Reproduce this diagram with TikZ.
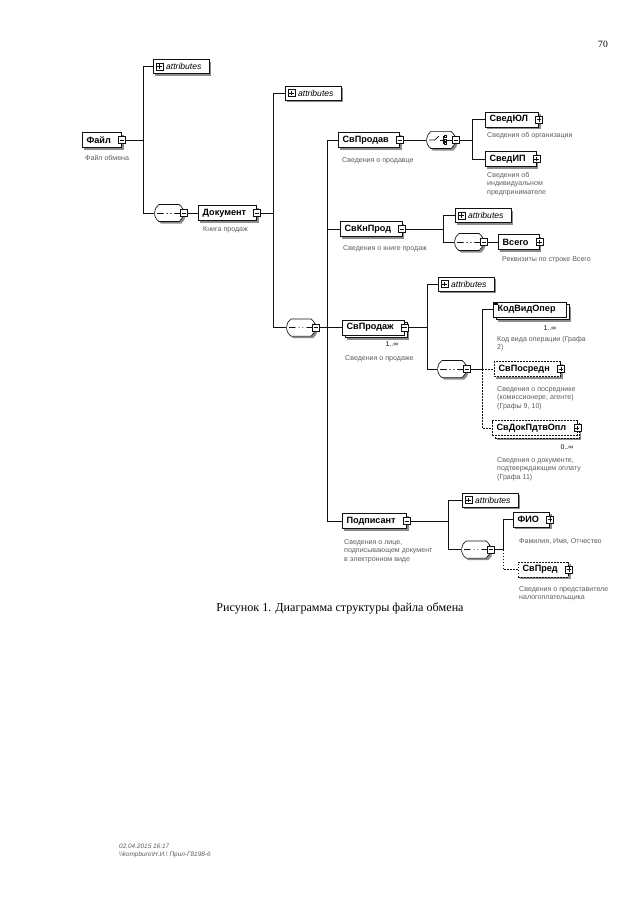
\documentclass[tikz,border=0pt]{standalone}
\usepackage{fontspec}
\setmainfont{Liberation Serif}
\setsansfont{Liberation Sans}
\usetikzlibrary{shapes.misc,shadows,calc}
\definecolor{xsInk}{HTML}{111111}
\definecolor{xsGrey}{HTML}{5C5C5C}
\definecolor{xsShade}{HTML}{8C8C8C}
\tikzset{
  shd/.style={drop shadow={shadow xshift=2pt, shadow yshift=-2pt, fill=xsShade, draw=none, opacity=1}},
  elmB/.style={draw=xsInk, fill=white, line width=0.6pt, anchor=west, minimum height=14pt, inner xsep=4pt, inner ysep=1pt, font=\sffamily\bfseries\fontsize{8.5}{10}\selectfont, execute at end node={\hspace{6pt}}},
  elm/.style={elmB, shd},
  elmO/.style={elm, dash pattern=on 1.6pt off 1.2pt},
  elmM/.style={elmB, drop shadow={shadow xshift=4.2pt, shadow yshift=-4.2pt, fill=xsShade, draw=none, opacity=1}, copy shadow={shadow xshift=2.5pt, shadow yshift=-2.5pt}},
  elmMO/.style={elmM, dash pattern=on 1.6pt off 1.2pt},
  atr/.style={draw=xsInk, fill=white, line width=0.6pt, anchor=west, minimum height=13pt, inner xsep=3pt, inner ysep=1pt, font=\sffamily\itshape\fontsize{8}{9}\selectfont, execute at begin node={\hspace{9pt}}, execute at end node={\hspace{4pt}}, shd},
  mns/.style={draw=xsInk, fill=white, line width=0.5pt, minimum size=6.5pt, inner sep=0pt,
    path picture={\draw[line width=0.5pt] ([xshift=1.2pt]path picture bounding box.west) -- ([xshift=-1.2pt]path picture bounding box.east);}},
  pls/.style={draw=xsInk, fill=white, line width=0.5pt, minimum size=6.5pt, inner sep=0pt,
    path picture={\draw[line width=0.5pt] ([xshift=1.2pt]path picture bounding box.west) -- ([xshift=-1.2pt]path picture bounding box.east);
      \draw[line width=0.5pt] ([yshift=1.2pt]path picture bounding box.south) -- ([yshift=-1.2pt]path picture bounding box.north);}},
  grp/.style={rounded rectangle, rounded rectangle arc length=110, draw=xsInk, fill=white, line width=0.6pt, minimum width=27pt, minimum height=16pt, inner sep=0pt, shd},
  sqn/.style={grp,
    path picture={\draw[line width=0.9pt] ([xshift=2.5pt]path picture bounding box.west) -- ([xshift=-2.5pt]path picture bounding box.east);
      \foreach \d in {-3.6pt,0pt,3.6pt} \fill ([xshift=\d]path picture bounding box.center) circle (1.6pt);}},
  chc/.style={grp,
    path picture={\draw[line width=0.7pt] ([xshift=-11pt]path picture bounding box.center) -- ([xshift=-6pt]path picture bounding box.center) -- ([xshift=-2pt,yshift=3.5pt]path picture bounding box.center);
      \draw[line width=0.7pt] ([xshift=-1pt]path picture bounding box.center) -- ([xshift=6pt]path picture bounding box.center);
      \draw[line width=0.6pt] ([xshift=2pt,yshift=-3.5pt]path picture bounding box.center) -- ([xshift=2pt,yshift=3.5pt]path picture bounding box.center);
      \foreach \d in {-3.2pt,0pt,3.2pt} \draw[line width=0.5pt, fill=white] ([shift={(2.8pt,\d-1pt)}]path picture bounding box.center) rectangle ++(2pt,2pt);
      \draw[line width=0.7pt] ([xshift=5pt]path picture bounding box.center) -- ([xshift=11pt]path picture bounding box.center);}},
  lbl/.style={anchor=north west, inner sep=0pt, align=left, text=xsGrey, font=\sffamily\fontsize{6.6}{7.9}\selectfont},
  occ/.style={inner sep=0pt, text=xsInk, font=\sffamily\fontsize{6.5}{7.8}\selectfont},
  ln/.style={draw=xsInk, line width=0.6pt},
  lnO/.style={ln, dash pattern=on 1.6pt off 1.2pt},
}
\begin{document}
\begin{tikzpicture}[x=0.0328cm, y=-0.0328cm]
\useasboundingbox (0,0) rectangle (640,905);
\node[font=\fontsize{9}{11}\selectfont] (pg) at (603,44) {70};

% Файл
\node[elm] (fil) at (82,140) {Файл};
\node[mns] (filM) at (fil.east) {};
\node[lbl] (filL) at (85,155) {Файл обмена};
\node[atr] (at1) at (153,66.5) {attributes};
\node[pls] (at1P) at ([xshift=6pt]at1.west) {};
\node[sqn] (sq1) at (169,213) {};
\node[mns] (sq1M) at (sq1.east) {};
\coordinate (j1) at (143,140);
\draw[ln] (filM) -- (j1) |- (at1);
\draw[ln] (j1) |- (sq1);

% Документ
\node[elm] (doc) at (198,213) {Документ};
\node[mns] (docM) at (doc.east) {};
\node[lbl] (docL) at (203,226) {Книга продаж};
\draw[ln] (sq1M) -- (doc);
\node[atr] (at2) at (285,93) {attributes};
\node[pls] (at2P) at ([xshift=6pt]at2.west) {};
\node[sqn] (sq2) at (301,327.5) {};
\node[mns] (sq2M) at (sq2.east) {};
\coordinate (j2) at (273,213);
\draw[ln] (docM) -- (j2) |- (at2);
\draw[ln] (j2) |- (sq2);

% children of Документ
\node[elm] (svp) at (338,140) {СвПродав};
\node[mns] (svpM) at (svp.east) {};
\node[lbl] (svpL) at (342,157) {Сведения о продавце};
\node[elm] (skp) at (340,229) {СвКнПрод};
\node[mns] (skpM) at (skp.east) {};
\node[lbl] (skpL) at (343,245) {Сведения о книге продаж};
\node[elmM] (spj) at (342,327.5) {СвПродаж};
\node[mns] (spjM) at (spj.east) {};
\node[occ] (spjO) at (392,344) {1..∞};
\node[lbl] (spjL) at (345,355) {Сведения о продаже};
\node[elm] (pod) at (342,521) {Подписант};
\node[mns] (podM) at (pod.east) {};
\node[lbl] (podL) at (344,539) {Сведения о лице,\\подписывающем документ\\в электронном виде};
\coordinate (j3) at (327,327.5);
\draw[ln] (sq2M) -- (j3);
\foreach \v in {svp,skp,spj,pod} \draw[ln] (j3) |- (\v);

% СвПродав
\node[chc] (ch1) at (441,140) {};
\node[mns] (ch1M) at (ch1.east) {};
\draw[ln] (svpM) -- (ch1);
\node[elm] (sul) at (485,119.5) {СведЮЛ};
\node[pls] (sulP) at (sul.east) {};
\node[lbl] (sulL) at (487,132) {Сведения об организации};
\node[elm] (sip) at (485,159) {СведИП};
\node[pls] (sipP) at (sip.east) {};
\node[lbl] (sipL) at (487,172) {Сведения об\\индивидуальном\\предпринимателе};
\coordinate (j4) at (472,140);
\draw[ln] (ch1M) -- (j4);
\foreach \v in {sul,sip} \draw[ln] (j4) |- (\v);

% СвКнПрод
\node[atr] (at3) at (455,215.5) {attributes};
\node[pls] (at3P) at ([xshift=6pt]at3.west) {};
\node[sqn] (sq3) at (469,242) {};
\node[mns] (sq3M) at (sq3.east) {};
\node[elm] (vsg) at (498,242) {Всего};
\node[pls] (vsgP) at (vsg.east) {};
\node[lbl] (vsgL) at (502,256) {Реквизиты по строке Всего};
\coordinate (j5) at (443,229);
\draw[ln] (skpM) -- (j5) |- (at3);
\draw[ln] (j5) |- (sq3);
\draw[ln] (sq3M) -- (vsg);

% СвПродаж
\node[atr] (at4) at (438,284) {attributes};
\node[pls] (at4P) at ([xshift=6pt]at4.west) {};
\node[sqn] (sq4) at (452,369) {};
\node[mns] (sq4M) at (sq4.east) {};
\node[elmM] (kvo) at (493,309.5) {КодВидОпер};
\foreach \k in {1.4pt,2.6pt} \draw[ln, line width=0.4pt] ([shift={(1.2pt,-\k)}]kvo.north west) -- ++(3pt,0);
\node[occ] (kvoO) at (550,328) {1..∞};
\node[lbl] (kvoL) at (497,336) {Код вида операции (Графа\\2)};
\node[elmO] (spo) at (494,369) {СвПосредн};
\node[pls] (spoP) at (spo.east) {};
\node[lbl] (spoL) at (497,386) {Сведения о посреднике\\(комиссионере, агенте)\\(Графы 9, 10)};
\node[elmMO] (sdp) at (492,428) {СвДокПдтвОпл};
\node[pls] (sdpP) at (sdp.east) {};
\node[occ] (sdpO) at (567,447) {0..∞};
\node[lbl] (sdpL) at (497,457) {Сведения о документе,\\подтверждающем оплату\\(Графа 11)};
\coordinate (j6) at (427,327.5);
\draw[ln] (spjM) -- (j6) |- (at4);
\draw[ln] (j6) |- (sq4);
\coordinate (j7) at (482,369);
\draw[ln] (sq4M) -- (j7) |- (kvo);
\foreach \v in {spo,sdp} \draw[lnO] (j7) |- (\v);

% Подписант
\node[atr] (at5) at (462,500) {attributes};
\node[pls] (at5P) at ([xshift=6pt]at5.west) {};
\node[sqn] (sq5) at (476,549.5) {};
\node[mns] (sq5M) at (sq5.east) {};
\node[elm] (fio) at (513,519.5) {ФИО};
\node[pls] (fioP) at (fio.east) {};
\node[lbl] (fioL) at (519,538) {Фамилия, Имя, Отчество};
\node[elmO] (svr) at (518,569.5) {СвПред};
\node[pls] (svrP) at (svr.east) {};
\node[lbl] (svrL) at (519,586) {Сведения о представителе\\налогоплательщика};
\coordinate (j8) at (448,521);
\draw[ln] (podM) -- (j8) |- (at5);
\draw[ln] (j8) |- (sq5);
\coordinate (j9) at (503,549.5);
\draw[ln] (sq5M) -- (j9) |- (fio);
\draw[lnO] (j9) |- (svr);

\node[font=\fontsize{11.3}{13.5}\selectfont] (cap) at (340,608) {Рисунок 1. Диаграмма структуры файла обмена};
\node[anchor=north west, inner sep=0pt, align=left, text=xsGrey, font=\sffamily\itshape\fontsize{6}{7.4}\selectfont] (ftr) at (119,844) {02.04.2015 16:17\\\textbackslash\textbackslash kompburo\textbackslash Н.И.\textbackslash\ Прил-Г8198-6};
\end{tikzpicture}
\end{document}
